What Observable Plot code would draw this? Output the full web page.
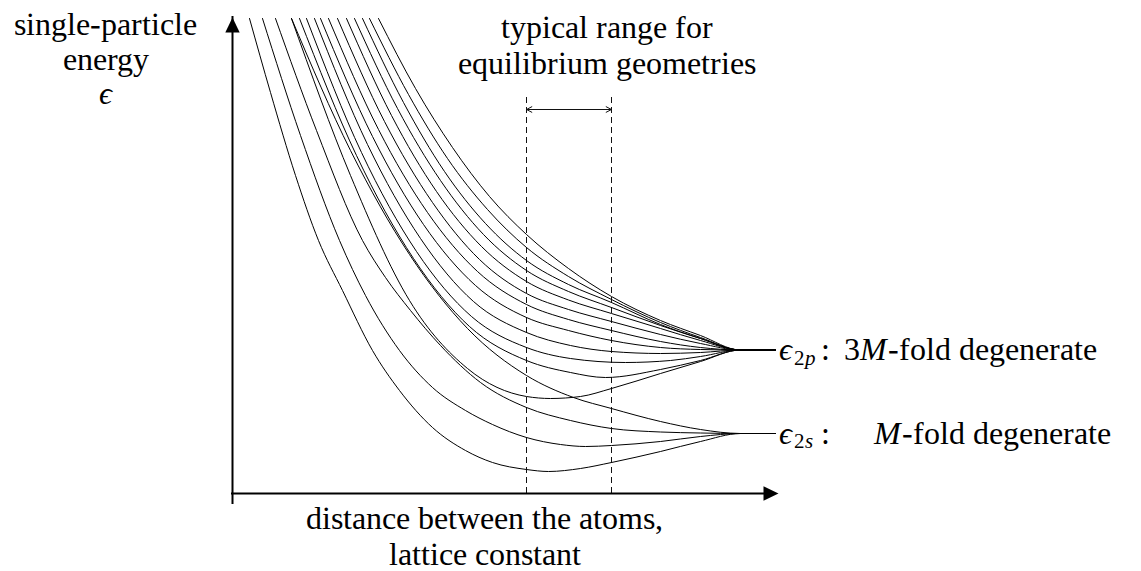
<!DOCTYPE html>
<html>
<head>
<meta charset="utf-8">
<script src="https://cdn.jsdelivr.net/npm/d3@7"></script>
<script src="https://cdn.jsdelivr.net/npm/@observablehq/plot@0.6"></script>
<style>
  @font-face {
    font-family: "BookSerif";
    font-style: normal;
    src: local("Liberation Serif"), local("LiberationSerif"), local("LiberationSerif-Regular"),
         local("DejaVu Serif"), local("DejaVuSerif");
  }
  @font-face {
    font-family: "BookSerif";
    font-style: italic;
    src: local("Liberation Serif Italic"), local("LiberationSerif-Italic"),
         local("DejaVu Serif Italic"), local("DejaVuSerif-Italic");
  }
  html, body { margin: 0; padding: 0; background: #fff; }
  #chart svg { display: block; }
  #chart svg text { font-family: "BookSerif", "Liberation Serif", "DejaVu Serif", serif; }
</style>
</head>
<body>
<div id="chart"></div>
<script>
// Axis extents (distance, energy) in arbitrary units
const xMax = 5.46;
const yMax = 4.76;

// Atomic levels reached at large separation
const level2s = 0.60;
const level2p = 1.435;

// Range of typical equilibrium lattice constants
const eqRange = [2.94, 3.79];

// M bands that go over into the 2s level: [distance, energy] points
const bands2s = [
  [[0.17,4.75],[0.38,4.01],[0.63,3.18],[0.86,2.53],[1.10,2.03],[1.40,1.43],[1.67,1.03],[2.00,0.66],[2.33,0.43],[2.60,0.31],[2.94,0.24],[3.16,0.22],[3.48,0.25],[3.79,0.31],[4.28,0.42],[4.68,0.52],[5.08,0.60],[5.43,0.60]],
  [[0.30,4.75],[0.68,3.58],[1.07,2.53],[1.33,1.98],[1.67,1.43],[2.00,1.06],[2.33,0.83],[2.60,0.69],[2.94,0.56],[3.28,0.49],[3.53,0.47],[3.79,0.48],[4.28,0.52],[4.68,0.57],[5.08,0.60],[5.43,0.60]],
  [[0.43,4.75],[0.84,3.63],[1.30,2.53],[1.53,2.16],[1.78,1.83],[2.08,1.48],[2.48,1.11],[2.94,0.86],[3.38,0.73],[3.79,0.65],[4.28,0.615],[4.68,0.605],[5.08,0.60],[5.43,0.60]],
  [[0.59,4.75],[1.18,3.43],[1.77,2.39],[2.35,1.65],[2.94,1.18],[3.41,0.96],[3.79,0.85],[4.28,0.72],[4.68,0.64],[5.08,0.60],[5.43,0.60]]
];

// 3M bands that go over into the 2p level
const bands2p = [
  [[0.59,4.75],[1.18,3.18],[1.77,1.93],[2.35,1.25],[2.94,0.97],[3.18,0.95],[3.48,0.97],[3.79,1.05],[4.28,1.20],[4.68,1.32],[5.08,1.435],[5.43,1.435]],
  [[0.67,4.75],[1.24,3.38],[1.81,2.35],[2.37,1.67],[2.94,1.33],[3.38,1.21],[3.73,1.16],[4.28,1.24],[4.68,1.33],[5.08,1.435],[5.43,1.435]],
  [[0.74,4.75],[1.29,3.41],[1.84,2.42],[2.39,1.77],[2.94,1.46],[3.38,1.35],[3.93,1.31],[4.38,1.33],[4.68,1.37],[5.08,1.435],[5.43,1.435]],
  [[0.82,4.75],[1.35,3.49],[1.88,2.55],[2.41,1.92],[2.94,1.61],[3.38,1.48],[3.79,1.42],[4.28,1.40],[4.68,1.41],[5.08,1.435],[5.43,1.435]],
  [[0.88,4.75],[1.40,3.57],[1.91,2.69],[2.43,2.08],[2.94,1.76],[3.36,1.63],[3.79,1.53],[4.28,1.46],[4.68,1.44],[5.08,1.435],[5.43,1.435]],
  [[0.96,4.75],[1.46,3.64],[1.95,2.81],[2.45,2.22],[2.94,1.89],[3.36,1.74],[3.79,1.63],[4.28,1.52],[4.68,1.46],[5.08,1.435],[5.43,1.435]],
  [[1.05,4.75],[1.52,3.72],[2.00,2.91],[2.47,2.34],[2.94,2.00],[3.36,1.84],[3.79,1.72],[4.28,1.59],[4.68,1.50],[5.08,1.435],[5.43,1.435]],
  [[1.14,4.75],[1.59,3.78],[2.04,3.02],[2.49,2.47],[2.94,2.12],[3.36,1.935],[3.79,1.80],[4.28,1.65],[4.68,1.53],[5.08,1.435],[5.43,1.435]],
  [[1.22,4.75],[1.65,3.85],[2.08,3.13],[2.51,2.59],[2.94,2.23],[3.36,2.02],[3.79,1.86],[4.28,1.68],[4.68,1.55],[5.08,1.435],[5.43,1.435]],
  [[1.30,4.75],[1.71,3.91],[2.12,3.22],[2.53,2.70],[2.94,2.33],[3.36,2.09],[3.79,1.91],[4.28,1.69],[4.68,1.55],[5.08,1.435],[5.43,1.435]],
  [[1.37,4.75],[1.76,3.99],[2.15,3.35],[2.55,2.84],[2.94,2.46],[3.36,2.17],[3.79,1.94],[4.28,1.71],[4.68,1.56],[5.08,1.435],[5.43,1.435]],
  [[1.46,4.75],[1.83,4.05],[2.20,3.46],[2.57,2.97],[2.94,2.59],[3.36,2.25],[3.79,1.97],[4.28,1.73],[4.68,1.58],[5.08,1.435],[5.43,1.435]]
];

// Texts
const yLabel = ["single-particle", "energy"];
const xLabel = ["distance between the atoms,", "lattice constant"];
const rangeLabel = ["typical range for", "equilibrium geometries"];
const levelLabels = [
  {energy: level2p, sub: "p", factor: "3", text: "-fold degenerate"},
  {energy: level2s, sub: "s", factor: "",  text: "-fold degenerate"}
];

// Flatten the bands into rows for Plot.line
const rows = [];
[...bands2s, ...bands2p].forEach((band, i) => {
  for (const [x, y] of band) rows.push({band: i, x, y});
});

const serif = "BookSerif, Liberation Serif, DejaVu Serif, serif";
const fs = 32;

// Filled arrow head with its tip at the anchor point, pointing up
const arrowHead = {
  draw(context) {
    context.moveTo(0, 0);
    context.lineTo(-7.2, 15);
    context.lineTo(7.2, 15);
    context.closePath();
  }
};

// Pieces of the labels at the atomic levels (pixel offsets from the axis end)
const levelPieces = [];
for (const L of levelLabels) {
  const mOffset = L.factor ? 81 : 95;
  levelPieces.push(
    {L, text: "ϵ", dx: 0, dy: 0, italic: true, size: fs},
    {L, text: "2", dx: 15, dy: 8, italic: false, size: 21},
    {L, text: L.sub, dx: 26, dy: 8, italic: true, size: 21},
    {L, text: ":", dx: 42, dy: 0, italic: false, size: fs},
    ...(L.factor ? [{L, text: L.factor, dx: 65, dy: 0, italic: false, size: fs}] : []),
    {L, text: "M", dx: mOffset, dy: 0, italic: true, size: fs},
    {L, text: L.text, dx: mOffset + 28, dy: 0, italic: false, size: fs}
  );
}

const marks = [
  // dashed verticals bounding the equilibrium range
  Plot.ruleX(eqRange, {y1: 0, y2: 4.0, stroke: "#111", strokeWidth: 1, strokeDasharray: "6,4"}),
  // double-headed arrow between them
  Plot.arrow([eqRange[0], eqRange[1]], {
    x1: d3.mean(eqRange), x2: d => d, y1: 3.84, y2: 3.84,
    stroke: "#111", strokeWidth: 1, headLength: 9, headAngle: 55
  }),
  // the bands
  Plot.line(rows, {x: "x", y: "y", z: "band", curve: "monotone-x", stroke: "#000", strokeWidth: 1}),
  // axes
  Plot.ruleX([0], {y1: 0, y2: yMax, insetTop: 10, stroke: "#000", strokeWidth: 2, strokeLinecap: "square"}),
  Plot.ruleY([0], {x1: 0, x2: xMax, insetRight: 10, stroke: "#000", strokeWidth: 2, strokeLinecap: "square"}),
  Plot.dot([[0, yMax]], {x: d => d[0], y: d => d[1], symbol: arrowHead, fill: "#000", stroke: "none"}),
  Plot.dot([[xMax, 0]], {x: d => d[0], y: d => d[1], symbol: arrowHead, rotate: 90, fill: "#000", stroke: "none"}),
  // axis labels
  Plot.text([yLabel.join("\n")], {x: -1.27, y: 4.24, text: d => d, textAnchor: "middle", lineAnchor: "bottom",
    lineHeight: 35 / fs, fontSize: fs, fontFamily: serif, fill: "#000"}),
  Plot.text(["ϵ"], {x: -1.27, y: 3.90, text: d => d, textAnchor: "middle", lineAnchor: "bottom",
    fontSize: fs, fontStyle: "italic", fontFamily: serif, fill: "#000"}),
  Plot.text([xLabel.join("\n")], {x: 2.52, y: -0.715, text: d => d, textAnchor: "middle", lineAnchor: "bottom",
    lineHeight: 36 / fs, fontSize: fs, fontFamily: serif, fill: "#000"}),
  Plot.text([rangeLabel.join("\n")], {x: 3.74, y: 4.20, text: d => d, textAnchor: "middle", lineAnchor: "bottom",
    lineHeight: 36 / fs, fontSize: fs, fontFamily: serif, fill: "#000"}),
  // labels of the atomic levels
  ...levelPieces.map(p => Plot.text([p], {
    x: xMax, y: d => d.L.energy, text: d => d.text, dx: p.dx, dy: p.dy,
    textAnchor: "start", fontSize: p.size, fontStyle: p.italic ? "italic" : "normal",
    fontFamily: serif, fill: "#000"
  }))
];

const chart = Plot.plot({
  width: 1141,
  height: 571,
  marginLeft: 232,
  marginRight: 363,
  marginTop: 17,
  marginBottom: 78,
  x: {domain: [0, xMax], axis: null},
  y: {domain: [0, yMax], axis: null},
  style: {background: "#fff", overflow: "visible", fontFamily: serif},
  marks
});
document.getElementById("chart").append(chart);
</script>
</body>
</html>
